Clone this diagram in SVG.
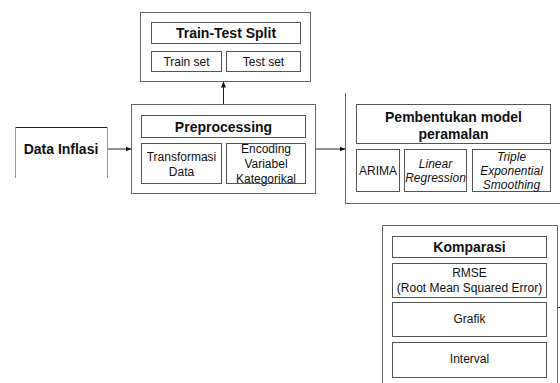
<svg xmlns="http://www.w3.org/2000/svg" width="560" height="383" viewBox="0 0 560 383">
  <defs>
    <marker id="arrow" markerWidth="6" markerHeight="6" refX="5.5" refY="3" orient="auto" markerUnits="userSpaceOnUse">
      <path d="M0,0.5 L6,3 L0,5.5 Z" fill="#111"/>
    </marker>
    <style>
      .frame { fill: none; stroke: #666; stroke-width: 1; }
      .soft { fill: none; stroke: #9a9a9a; stroke-width: 1; }
      .box { fill: #fff; stroke: #555; stroke-width: 1; }
      .edge { fill: none; stroke: #222; stroke-width: 1; }
      text { font-family: "Liberation Sans", Arial, sans-serif; fill: #111; text-anchor: middle; }
      .title { font-size: 14px; font-weight: bold; }
      .item { font-size: 12px; }
      .it { font-size: 12px; font-style: italic; }
    </style>
  </defs>
  <rect width="560" height="383" fill="#fff"/>

  <!-- Data Inflasi -->
  <g id="data-inflasi">
    <line x1="15" y1="127.5" x2="108" y2="127.5" stroke="#222"/>
    <line x1="15.5" y1="127" x2="15.5" y2="178" class="soft"/>
    <line x1="107.5" y1="127" x2="107.5" y2="178" class="soft"/>
    <text class="title" x="61" y="154">Data Inflasi</text>
  </g>

  <!-- Train-Test Split -->
  <g id="train-test-split">
    <rect class="frame" x="140.5" y="12.5" width="170" height="69"/>
    <rect class="box" x="151.5" y="22.5" width="149" height="21"/>
    <text class="title" x="226" y="38">Train-Test Split</text>
    <rect class="box" x="151.5" y="51.5" width="70" height="20"/>
    <text class="item" x="186.5" y="65.5">Train set</text>
    <rect class="box" x="226.5" y="51.5" width="74" height="20"/>
    <text class="item" x="263.5" y="65.5">Test set</text>
  </g>

  <!-- Preprocessing -->
  <g id="preprocessing">
    <rect class="frame" x="131.5" y="104.5" width="184" height="89"/>
    <rect class="box" x="141.5" y="115.5" width="164" height="22"/>
    <text class="title" x="223.5" y="131.5">Preprocessing</text>
    <rect class="box" x="141.5" y="143.5" width="80" height="40"/>
    <text class="item" x="181.5" y="161">Transformasi</text>
    <text class="item" x="181.5" y="176">Data</text>
    <rect class="box" x="226.5" y="143.5" width="79" height="40"/>
    <text class="item" x="266" y="153">Encoding</text>
    <text class="item" x="266" y="168">Variabel</text>
    <text class="item" x="266" y="183">Kategorikal</text>
  </g>

  <!-- Pembentukan model peramalan -->
  <g id="pembentukan-model">
    <polyline class="frame" points="345.5,93 345.5,203.5 560,203.5"/>
    <rect class="box" x="356.5" y="104.5" width="194" height="39"/>
    <text class="title" x="453.5" y="122">Pembentukan model</text>
    <text class="title" x="453.5" y="139">peramalan</text>
    <rect class="box" x="356.5" y="149.5" width="43" height="42"/>
    <text class="item" x="378" y="174.5">ARIMA</text>
    <rect class="box" x="404.5" y="149.5" width="62" height="42"/>
    <text class="it" x="435.5" y="167.5">Linear</text>
    <text class="it" x="435.5" y="181.5">Regression</text>
    <rect class="box" x="472.5" y="149.5" width="78" height="42"/>
    <text class="it" x="511.5" y="161">Triple</text>
    <text class="it" x="511.5" y="175">Exponential</text>
    <text class="it" x="511.5" y="189">Smoothing</text>
  </g>

  <!-- Komparasi -->
  <g id="komparasi">
    <polyline class="frame" points="382.5,383 382.5,225.5 557.5,225.5 557.5,383"/>
    <rect class="box" x="392.5" y="236.5" width="154" height="21"/>
    <text class="title" x="469.5" y="252">Komparasi</text>
    <rect class="box" x="392.5" y="263.5" width="154" height="34"/>
    <text class="item" x="469.5" y="277">RMSE</text>
    <text class="item" x="469.5" y="292">(Root Mean Squared Error)</text>
    <rect class="box" x="392.5" y="302.5" width="154" height="34"/>
    <text class="item" x="469.5" y="323">Grafik</text>
    <rect class="box" x="392.5" y="342.5" width="154" height="35"/>
    <text class="item" x="469.5" y="363">Interval</text>
  </g>

  <!-- Connectors -->
  <g id="connectors">
    <line class="edge" x1="108" y1="149" x2="131" y2="149" marker-end="url(#arrow)"/>
    <line class="edge" x1="223.5" y1="104" x2="223.5" y2="82" marker-end="url(#arrow)"/>
    <line class="edge" x1="316" y1="149" x2="345" y2="149" marker-end="url(#arrow)"/>
    <line class="edge" x1="558" y1="307.5" x2="560" y2="307.5"/>
  </g>
</svg>
